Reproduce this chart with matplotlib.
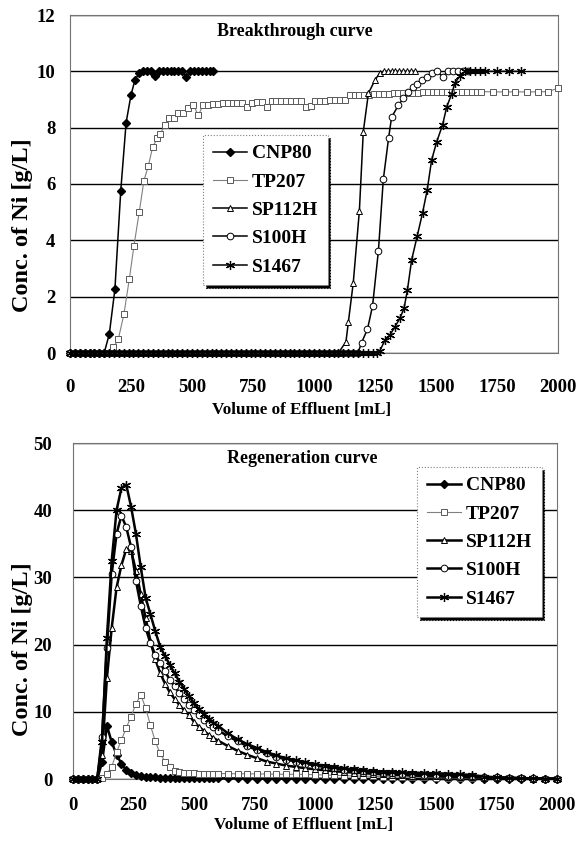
import matplotlib
matplotlib.use("Agg")
import matplotlib.pyplot as plt

plt.rcParams['font.family'] = ['Liberation Serif', 'DejaVu Serif']
plt.rcParams['font.weight'] = 'bold'

series_names = ["CNP80", "TP207", "SP112H", "S100H", "S1467"]

# ---------------- Breakthrough curve data ----------------
bt_cnp80_x = list(range(0, 160, 20)) + [161, 184, 208, 230, 250, 266, 284] + list(range(300, 600, 16))
bt_cnp80_y = [0] * 8 + [0.67, 2.26, 5.76, 8.18, 9.16, 9.69, 9.95] + \
    [10.0, 10.0, 10.0, 9.85, 10.0, 10.0, 10.0, 10.0, 10.0, 10.0, 10.0, 9.8, 10.0, 10.0, 10.0, 10.0, 10.0, 10.0, 10.0]

bt_tp207_x = list(range(0, 180, 20)) + [178, 198, 221, 243, 262, 284, 303, 321, 339, 358, 369, 389, 407, 426,
                                         444, 464, 485, 505, 526, 546] + list(range(566, 1700, 20)) + \
    [1734, 1783, 1824, 1873, 1918, 1959, 2000]
bt_tp207_y = [0] * 9 + [0.2, 0.49, 1.38, 2.62, 3.8, 5.02, 6.12, 6.64, 7.32, 7.62, 7.77, 8.09, 8.33, 8.33,
                        8.53, 8.53, 8.69, 8.8, 8.45, 8.8] + \
    [8.82, 8.84, 8.85, 8.86, 8.86, 8.87, 8.87, 8.88, 8.72, 8.88, 8.9, 8.9, 8.74, 8.93, 8.95, 8.95, 8.96,
     8.96, 8.96, 8.96, 8.74, 8.76, 8.95, 8.96, 8.96, 8.97, 8.97, 8.97, 8.98, 9.15, 9.15, 9.16, 9.16, 9.17,
     9.18, 9.18, 9.2, 9.21, 9.22, 9.22, 9.23, 9.23, 9.24, 9.24, 9.25, 9.25, 9.26, 9.26, 9.27, 9.27, 9.27,
     9.28, 9.28, 9.28, 9.28, 9.28, 9.28] + \
    [9.27, 9.27, 9.27, 9.27, 9.27, 9.28, 9.4]

bt_sp112h_x = list(range(0, 1120, 20)) + [1131, 1141, 1161, 1186, 1202, 1223, 1250, 1270] + list(range(1286, 1420, 16))
bt_sp112h_y = [0] * 56 + [0.4, 1.11, 2.5, 5.05, 7.86, 9.22, 9.69, 9.95] + [10.0] * 9

bt_s100h_x = list(range(0, 1190, 20)) + [1195, 1219, 1240, 1264, 1284, 1306, 1318, 1346, 1366, 1387, 1407,
                                          1423, 1441, 1462, 1482, 1505, 1527, 1550, 1570, 1590, 1610, 1630]
bt_s100h_y = [0] * 60 + [0.37, 0.84, 1.67, 3.63, 6.16, 7.65, 8.37, 8.8, 9.04, 9.28, 9.45,
                         9.55, 9.69, 9.81, 9.93, 10.0, 9.81, 10.0, 10.0, 10.0, 10.0, 10.0]

bt_s1467_x = list(range(0, 1270, 20)) + [1270, 1291, 1311, 1332, 1352, 1369, 1383, 1400, 1423, 1445, 1464,
                                          1482, 1503, 1527, 1544, 1564, 1578, 1598, 1619, 1640, 1660, 1680,
                                          1700, 1750, 1800, 1850]
bt_s1467_y = [0] * 64 + [0.08, 0.46, 0.64, 0.93, 1.23, 1.59, 2.24, 3.3, 4.15, 4.98, 5.79,
                         6.85, 7.5, 8.1, 8.74, 9.19, 9.6, 9.83, 10.0, 10.0, 10.0, 10.0,
                         10.0, 10.0, 10.0, 10.0]

# ---------------- Regeneration curve data ----------------
rg_x = list(range(0, 600, 20)) + list(range(600, 1400, 40)) + list(range(1400, 2001, 50))

rg_cnp80 = [0, 0, 0, 0, 0, 0, 2.5, 7.9, 5.5, 3.6, 2.3, 1.3, 0.9, 0.6, 0.45, 0.35, 0.3, 0.25, 0.2, 0.2,
            0.15, 0.15, 0.12, 0.12, 0.1, 0.1, 0.1, 0.1, 0.1, 0.1,
            0.1, 0.08, 0.08, 0.07, 0.06, 0.05, 0.05, 0.05, 0.04, 0.04, 0.03, 0.03, 0.02, 0.02, 0.02, 0.02,
            0.01, 0.01, 0.01, 0.01,
            0, 0, 0, 0, 0, 0, 0, 0, 0, 0, 0, 0, 0]

rg_tp207 = [0, 0, 0, 0, 0, 0, 0.2, 0.8, 1.8, 4.0, 5.8, 7.6, 9.3, 11.2, 12.5, 10.6, 8.0, 5.6, 3.8, 2.6,
            1.8, 1.2, 1.0, 0.9, 0.85, 0.85, 0.8, 0.8, 0.8, 0.8,
            0.8, 0.8, 0.78, 0.78, 0.75, 0.75, 0.72, 0.7, 0.7, 0.68, 0.65, 0.6, 0.55, 0.5, 0.45, 0.42,
            0.4, 0.36, 0.33, 0.3,
            0.27, 0.24, 0.2, 0.18, 0.15, 0.13, 0.12, 0.1, 0.1, 0.08, 0.07, 0.06, 0.05]

rg_sp112h = [0, 0, 0, 0, 0, 0, 3.5, 15.0, 22.5, 28.5, 31.8, 34.2, 34.0, 31.0, 27.5, 24.0, 20.5, 17.8,
             15.8, 14.2, 12.9, 11.9, 11.0, 10.2, 9.5, 8.5, 7.8, 7.2, 6.6, 6.1,
             5.7, 4.9, 4.2, 3.6, 3.1, 2.6, 2.3, 2.0, 1.8, 1.6, 1.45, 1.3, 1.15, 1.05, 0.95, 0.85, 0.78,
             0.7, 0.65, 0.6,
             0.52, 0.45, 0.4, 0.35, 0.3, 0.25, 0.2, 0.15, 0.12, 0.1, 0.07, 0.05, 0.03]

rg_s100h = [0, 0, 0, 0, 0, 0, 6.3, 19.5, 30.5, 36.5, 39.2, 37.5, 34.5, 29.5, 25.8, 22.5, 20.2, 18.5,
            17.3, 16.0, 14.8, 13.8, 12.8, 11.9, 11.0, 10.2, 9.5, 8.8, 8.2, 7.7,
            7.2, 6.4, 5.6, 4.9, 4.3, 3.8, 3.3, 2.9, 2.6, 2.3, 2.0, 1.8, 1.6, 1.4, 1.3, 1.15, 1.05,
            0.95, 0.88, 0.8,
            0.72, 0.65, 0.58, 0.5, 0.45, 0.38, 0.3, 0.25, 0.2, 0.15, 0.1, 0.07, 0.05]

rg_s1467 = [0, 0, 0, 0, 0, 0, 5.5, 21.0, 32.5, 40.0, 43.3, 43.8, 40.5, 36.5, 31.5, 27.0, 24.5, 22.0,
            19.7, 18.3, 17.0, 15.7, 14.5, 13.4, 12.3, 11.3, 10.4, 9.7, 9.0, 8.4,
            7.9, 6.8, 5.9, 5.2, 4.6, 4.0, 3.5, 3.1, 2.8, 2.5, 2.2, 2.0, 1.8, 1.6, 1.45, 1.3, 1.2, 1.1,
            1.05, 1.0,
            0.95, 0.9, 0.85, 0.8, 0.7, 0.6, 0.35, 0.25, 0.18, 0.12, 0.1, 0.06, 0.05]

x_ticks = [0, 250, 500, 750, 1000, 1250, 1500, 1750, 2000]

styles = {
    "CNP80": dict(color="black", lw=1.1, marker="D", ms=4.3, mfc="black", mec="black"),
    "TP207": dict(color="0.5", lw=0.8, marker="s", ms=4.4, mfc="white", mec="0.35", mew=0.7),
    "SP112H": dict(color="black", lw=1.1, marker="^", ms=4.8, mfc="white", mec="black", mew=0.7),
    "S100H": dict(color="black", lw=1.1, marker="o", ms=4.8, mfc="white", mec="black", mew=0.7),
    "S1467": dict(color="black", lw=1.1, marker=(6, 2, 0), ms=6.5, mfc="black", mec="black", mew=0.9),
}

fig = plt.figure(figsize=(5.87, 8.47), dpi=100)
ax1 = fig.add_axes([70 / 587, 1 - 353 / 847, 488 / 587, 338 / 847])
ax2 = fig.add_axes([73 / 587, 1 - 779 / 847, 484 / 587, 336 / 847])


def style_axes(ax, ymax, ystep, title, tx, ty, ypad, xpad, xl_pos, yl_pos):
    ax.set_xlim(0, 2000)
    ax.set_ylim(0, ymax)
    ax.set_xticks(x_ticks)
    ax.set_yticks(list(range(0, ymax + 1, ystep)))
    ax.tick_params(length=0, labelsize=13.5)
    ax.tick_params(axis='y', pad=ypad)
    ax.tick_params(axis='x', pad=xpad)
    for lab in ax.get_xticklabels() + ax.get_yticklabels():
        lab.set_fontweight('bold')
    ax.yaxis.grid(True, color="black", lw=1.0)
    ax.set_axisbelow(True)
    for sp in ax.spines.values():
        sp.set_color("0.45")
        sp.set_linewidth(0.8)
    ax.set_xlabel("Volume of Effluent [mL]", fontsize=12.3, fontweight='bold')
    ax.set_ylabel("Conc. of Ni [g/L]", fontsize=17.5, fontweight='bold')
    ax.xaxis.set_label_coords(*xl_pos)
    ax.yaxis.set_label_coords(*yl_pos)
    ax.xaxis.label.set_va('center')
    ax.yaxis.label.set_va('center')
    ax.text(tx, ty, title, transform=ax.transAxes, ha="center", va="center",
            fontsize=13, fontweight='bold')


style_axes(ax1, 12, 2, "Breakthrough curve", 0.461, 0.95, 10.5, 19,
           (0.475, -0.169), (-0.098, 0.379))
style_axes(ax2, 50, 10, "Regeneration curve", 0.473, 0.955, 15, 13,
           (0.477, -0.137), (-0.105, 0.387))

bt_data = [(bt_cnp80_x, bt_cnp80_y), (bt_tp207_x, bt_tp207_y), (bt_sp112h_x, bt_sp112h_y),
           (bt_s100h_x, bt_s100h_y), (bt_s1467_x, bt_s1467_y)]
for name, (xs, ys) in zip(series_names, bt_data):
    ax1.plot(xs, ys, label=name, clip_on=False, zorder=3, **styles[name])

rg_data = [rg_cnp80, rg_tp207, rg_sp112h, rg_s100h, rg_s1467]
for name, ys in zip(series_names, rg_data):
    st = dict(styles[name])
    if name != "TP207":
        st["lw"] = 1.8
    ax2.plot(rg_x, ys, label=name, clip_on=False, zorder=3, **st)

shadow = {"color": "black", "alpha": 1.0}
leg_kw = dict(frameon=True, fancybox=False, shadow=shadow, handlelength=1.75,
              handletextpad=0.25, labelspacing=0.55, borderpad=0.5, borderaxespad=0.0,
              prop={'weight': 'bold', 'size': 14})
leg1 = ax1.legend(loc="upper left", bbox_to_anchor=((203 - 70) / 488, (353 - 135) / 338), **leg_kw)
leg2 = ax2.legend(loc="upper left", bbox_to_anchor=((417 - 73) / 484, (779 - 467) / 336), **leg_kw)
for lg in (leg1, leg2):
    fr = lg.get_frame()
    fr.set_edgecolor("0.5")
    fr.set_linestyle(":")
    fr.set_linewidth(0.8)
    lg.set_zorder(5)

fig.savefig("out.png", dpi=100)
